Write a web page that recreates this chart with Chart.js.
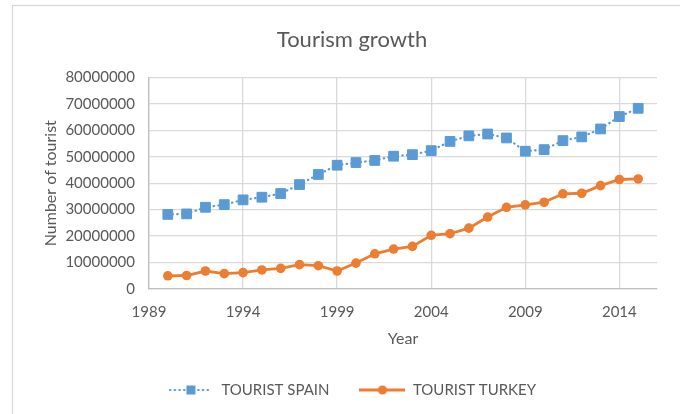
<!DOCTYPE html>
<html>
<head>
<meta charset="utf-8">
<script src="https://cdn.jsdelivr.net/npm/chart.js@4"></script>
<style>
  html, body { margin: 0; padding: 0; background: #ffffff; }
  #wrap { width: 680px; height: 414px; position: relative; }
</style>
</head>
<body>
<div id="wrap"><canvas id="c" width="680" height="414"></canvas></div>
<script>
// ---- Data ----
const years = [1990, 1991, 1992, 1993, 1994, 1995, 1996, 1997, 1998, 1999, 2000, 2001, 2002,
               2003, 2004, 2005, 2006, 2007, 2008, 2009, 2010, 2011, 2012, 2013, 2014, 2015];
const touristSpain = [28200000, 28400000, 30900000, 31900000, 33700000, 34700000, 36100000,
                      39500000, 43300000, 46800000, 47800000, 48600000, 50200000, 50800000,
                      52300000, 55800000, 57900000, 58600000, 57100000, 52100000, 52700000,
                      56100000, 57500000, 60500000, 65200000, 68300000];
const touristTurkey = [5000000, 5100000, 6800000, 5800000, 6200000, 7200000, 7800000,
                       9200000, 8800000, 6800000, 9800000, 13300000, 15100000, 16100000,
                       20300000, 20900000, 23000000, 27200000, 30900000, 31800000, 32800000,
                       36000000, 36200000, 39100000, 41400000, 41600000];
const xTickLabels = [1989, 1994, 1999, 2004, 2009, 2014];
const yTickLabels = [0, 10000000, 20000000, 30000000, 40000000, 50000000, 60000000, 70000000, 80000000];
const seriesNames = ['TOURIST SPAIN', 'TOURIST TURKEY'];

const BLUE = '#5b9bd5';
const ORANGE = '#ed7d31';
const TEXT = '#595959';
const GRID = '#d9d9d9';
const FONT = 'Lato';

function toPoints(xs, ys) { return xs.map((x, i) => ({ x: x, y: ys[i] })); }

// legend icons (line + marker)
function legendIcon(kind) {
  const c = document.createElement('canvas');
  c.width = 46; c.height = 12;
  const g = c.getContext('2d');
  if (kind === 'spain') {
    g.strokeStyle = BLUE; g.lineWidth = 2.2; g.lineCap = 'round';
    g.setLineDash([0.5, 4.2]);
    g.beginPath(); g.moveTo(2, 6); g.lineTo(44, 6); g.stroke();
    g.setLineDash([]);
    g.fillStyle = BLUE; g.fillRect(18.5, 1.5, 9, 9);
  } else {
    g.strokeStyle = ORANGE; g.lineWidth = 2.8;
    g.beginPath(); g.moveTo(0, 6); g.lineTo(46, 6); g.stroke();
    g.fillStyle = ORANGE; g.beginPath(); g.arc(23, 6, 4.6, 0, Math.PI * 2); g.fill();
  }
  return c;
}
const icons = [legendIcon('spain'), legendIcon('turkey')];

const borderPlugin = {
  id: 'outerBorder',
  beforeDraw(chart) {
    const ctx = chart.ctx;
    ctx.save();
    ctx.fillStyle = '#ffffff';
    ctx.fillRect(0, 0, chart.width, chart.height);
    ctx.strokeStyle = GRID;
    ctx.lineWidth = 1.3;
    ctx.strokeRect(12.5, 5.5, 720, 500);
    ctx.restore();
  }
};

new Chart(document.getElementById('c'), {
  type: 'line',
  data: {
    datasets: [
      {
        label: seriesNames[0],
        data: toPoints(years, touristSpain),
        borderColor: BLUE,
        backgroundColor: BLUE,
        borderWidth: 2.2,
        borderDash: [0.5, 4.2],
        borderCapStyle: 'round',
        pointStyle: 'rect',
        pointRadius: 6.9,
        pointBorderWidth: 1,
        pointBorderColor: BLUE,
        pointBackgroundColor: BLUE,
        tension: 0,
        fill: false
      },
      {
        label: seriesNames[1],
        data: toPoints(years, touristTurkey),
        borderColor: ORANGE,
        backgroundColor: ORANGE,
        borderWidth: 2.8,
        pointStyle: 'circle',
        pointRadius: 4.8,
        pointBorderWidth: 0,
        pointBackgroundColor: ORANGE,
        tension: 0,
        fill: false
      }
    ]
  },
  options: {
    responsive: false,
    animation: false,
    events: [],
    layout: { padding: { left: 24, right: 0, top: 10, bottom: 6.5 } },
    plugins: {
      title: {
        display: true,
        text: 'Tourism growth',
        color: TEXT,
        font: { family: FONT, size: 22, weight: 'normal' },
        padding: { top: 17, bottom: 24 }
      },
      legend: {
        position: 'bottom',
        labels: {
          color: TEXT,
          font: { family: FONT, size: 15 },
          usePointStyle: true,
          pointStyleWidth: 46,
          padding: 30,
          generateLabels(chart) {
            const items = Chart.defaults.plugins.legend.labels.generateLabels(chart);
            items.forEach((it, i) => { it.pointStyle = icons[i]; it.lineWidth = 0; });
            return items;
          }
        }
      },
      tooltip: { enabled: false }
    },
    scales: {
      x: {
        type: 'linear',
        min: 1989,
        max: 2016,
        afterBuildTicks(scale) { scale.ticks = xTickLabels.map(v => ({ value: v })); },
        afterFit(scale) { scale.height = 63.5; },
        ticks: {
          color: TEXT,
          font: { family: FONT, size: 15 },
          padding: 14,
          maxRotation: 0,
          autoSkip: false,
          callback: v => String(v)
        },
        grid: { color: GRID, lineWidth: 1.3, drawTicks: false },
        border: { color: '#bfbfbf', width: 1.3 },
        title: {
          display: true,
          text: 'Year',
          color: TEXT,
          font: { family: FONT, size: 16 },
          padding: { top: 0, bottom: 4.5 }
        }
      },
      y: {
        type: 'linear',
        min: 0,
        max: 80000000,
        afterBuildTicks(scale) { scale.ticks = yTickLabels.map(v => ({ value: v })); },
        afterFit(scale) { scale.width = 125; },
        ticks: {
          color: TEXT,
          font: { family: FONT, size: 15 },
          padding: 14,
          callback: v => String(v)
        },
        grid: { color: GRID, lineWidth: 1.3, drawTicks: false },
        border: { color: '#bfbfbf', width: 1.3 },
        title: {
          display: true,
          text: 'Number of tourist',
          color: TEXT,
          font: { family: FONT, size: 16 },
          padding: { top: 17, bottom: 0 }
        }
      },
      yRightSpace: {
        type: 'linear',
        position: 'right',
        display: true,
        afterFit(scale) { scale.width = 23; },
        ticks: { display: false },
        grid: { display: false, drawOnChartArea: false },
        border: { display: false }
      }
    }
  },
  plugins: [borderPlugin]
});
</script>
</body>
</html>
